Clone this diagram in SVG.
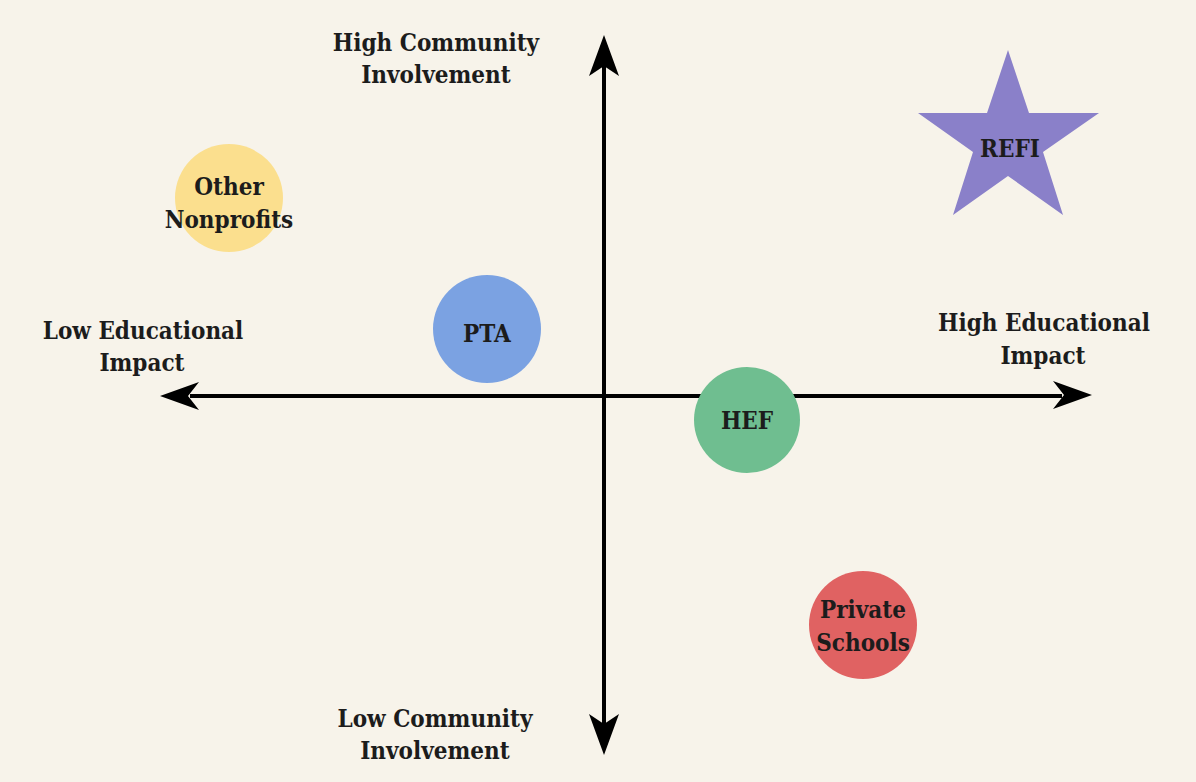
<svg xmlns="http://www.w3.org/2000/svg" width="1196" height="782" viewBox="0 0 1196 782">
<style>
text{font-family:"DejaVu Serif Condensed","DejaVu Serif","Liberation Serif",serif;font-weight:bold;font-size:24px;fill:#1c1c1c;text-anchor:middle}
.ax{stroke:#000;stroke-width:4;fill:none}
.ah{fill:#000}
</style>
<rect width="1196" height="782" fill="#f7f3ea"/>
<g id="connectors">
<line class="ax" x1="190" y1="396" x2="1062" y2="396"/>
<line class="ax" x1="604" y1="65" x2="604" y2="725"/>
<path class="ah" d="M160,396 L199,382 L188,396 L199,410 Z"/>
<path class="ah" d="M1092,395 L1053,381 L1064,395 L1053,409 Z"/>
<path class="ah" d="M604,35 L619,76 L604,66 L589,76 Z"/>
<path class="ah" d="M604,755 L619,714 L604,724 L589,714 Z"/>
</g>
<g id="label-high-community"><text x="436" y="51">High Community</text><text x="436" y="83">Involvement</text></g>
<g id="label-low-community"><text x="435" y="727">Low Community</text><text x="435" y="759">Involvement</text></g>
<g id="label-low-edu"><text x="143" y="339">Low Educational</text><text x="142" y="371">Impact</text></g>
<g id="label-high-edu"><text x="1044" y="331">High Educational</text><text x="1043" y="364">Impact</text></g>
<g id="node-other"><circle cx="229" cy="198" r="54" fill="#fbdf8e"/><text x="229" y="195">Other</text><text x="229" y="228">Nonprofits</text></g>
<g id="node-pta"><circle cx="487" cy="329" r="54" fill="#7ba2e2"/><text x="487" y="342">PTA</text></g>
<g id="node-hef"><circle cx="747" cy="420" r="53" fill="#6fbe90"/><text x="747" y="429">HEF</text></g>
<g id="node-private"><circle cx="863" cy="625" r="54" fill="#e06262"/><text x="863" y="618">Private</text><text x="863" y="651">Schools</text></g>
<g id="node-refi"><polygon points="1008,50 1029,113 1099,113 1043,152 1063,215 1008,176 953,215 973,152 918,113 987,113" fill="#8a80c9"/><text x="1010" y="157">REFI</text></g>
</svg>
